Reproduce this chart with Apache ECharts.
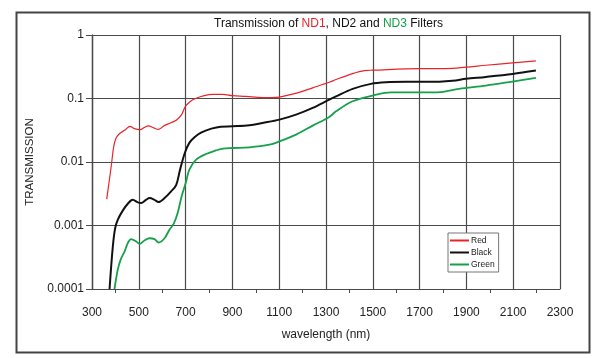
<!DOCTYPE html>
<html>
<head>
<meta charset="utf-8">
<script src="https://cdn.jsdelivr.net/npm/echarts@6/dist/echarts.min.js"></script>
<style>
html,body{margin:0;padding:0;background:#fff;}
#chart{width:600px;height:358px;}
</style>
</head>
<body>
<div id="chart"></div>
<script>
// ---- data ----
const xTickLabels = [300, 500, 700, 900, 1100, 1300, 1500, 1700, 1900, 2100, 2300];
const yTickLabels = [0.0001, 0.001, 0.01, 0.1, 1];

const redWl = [363, 382, 393, 403, 417, 439, 463, 481, 506, 524, 541, 564, 584, 609, 635, 660, 683, 698, 720, 745, 780, 816, 859, 901, 958, 1029, 1087, 1129, 1186, 1243, 1314, 1343, 1414, 1464, 1499, 1698, 1812, 1898, 1983, 2097, 2197];
const redT = [0.0026, 0.0085, 0.0176, 0.0239, 0.0279, 0.0315, 0.0365, 0.0335, 0.0323, 0.0351, 0.037, 0.0344, 0.0327, 0.0374, 0.0412, 0.0453, 0.0557, 0.074, 0.090, 0.101, 0.111, 0.116, 0.116, 0.111, 0.108, 0.103, 0.104, 0.111, 0.125, 0.147, 0.180, 0.199, 0.247, 0.275, 0.279, 0.296, 0.296, 0.311, 0.334, 0.364, 0.392];

const blackWl = [375, 389, 399, 410, 432, 453, 474, 496, 510, 531, 546, 567, 584, 610, 638, 660, 676, 697, 716, 738, 766, 810, 850, 901, 973, 1029, 1101, 1172, 1243, 1314, 1343, 1414, 1492, 1556, 1642, 1741, 1841, 1898, 1983, 2097, 2197];
const blackT = [0.0001, 0.000467, 0.00091, 0.00123, 0.00173, 0.0022, 0.00254, 0.00231, 0.00226, 0.00254, 0.0027, 0.00254, 0.00234, 0.0027, 0.00344, 0.00438, 0.0075, 0.0140, 0.020, 0.0245, 0.0290, 0.0335, 0.0360, 0.0365, 0.0378, 0.0412, 0.0465, 0.0557, 0.0711, 0.096, 0.108, 0.142, 0.170, 0.180, 0.183, 0.183, 0.191, 0.204, 0.219, 0.244, 0.275];

const greenWl = [396, 410, 422, 439, 453, 467, 489, 503, 524, 546, 567, 585, 610, 631, 649, 666, 683, 702, 716, 745, 790, 830, 860, 901, 973, 1058, 1101, 1172, 1243, 1314, 1343, 1414, 1499, 1578, 1684, 1777, 1869, 1983, 2097, 2197];
const greenT = [0.0001, 0.0002, 0.000288, 0.000389, 0.000528, 0.00061, 0.00056, 0.000514, 0.00058, 0.00063, 0.00061, 0.00054, 0.00063, 0.00086, 0.00106, 0.00157, 0.00287, 0.0049, 0.00757, 0.0109, 0.0135, 0.0152, 0.0163, 0.0166, 0.017, 0.0187, 0.0211, 0.027, 0.0374, 0.0513, 0.0628, 0.0904, 0.111, 0.125, 0.125, 0.125, 0.142, 0.160, 0.185, 0.211];

const seriesNames = ['Red', 'Black', 'Green'];
// ---- chart ----
const zip = (a, b) => a.map((v, i) => [v, b[i]]);
const chart = echarts.init(document.getElementById('chart'), null, {renderer: 'canvas'});
const gridCol = '#4a4a4a';
const fontMain = '"Liberation Sans", Arial, sans-serif';
const option = {
  animation: false,
  backgroundColor: '#fff',
  title: {
    left: 209, top: 13,
    text: '{a|Transmission of }{r|ND1}{a|, ND2 and }{g|ND3}{a| Filters}',
    textStyle: {
      fontFamily: fontMain, fontSize: 12, fontWeight: 'normal',
      rich: {
        a: {color: '#111', fontFamily: fontMain, fontSize: 12},
        r: {color: '#e8242b', fontFamily: fontMain, fontSize: 12},
        g: {color: '#16a04a', fontFamily: fontMain, fontSize: 12}
      }
    }
  },
  graphic: [{
    type: 'rect', left: 14, top: 10, silent: true,
    shape: {width: 573, height: 340},
    style: {fill: 'none', stroke: '#444', lineWidth: 2}
  }],
  legend: {
    orient: 'vertical', left: 448, top: 233,
    itemWidth: 19, itemHeight: 2, itemGap: 3,
    padding: [3, 4, 3, 2],
    borderColor: '#777', borderWidth: 1,
    backgroundColor: '#fff',
    icon: 'rect',
    textStyle: {fontSize: 8.5, color: '#222', fontFamily: fontMain, padding: [0,0,0,-3]},
    data: seriesNames
  },
  grid: {left: 92, right: 40, top: 35, bottom: 69, show: false},
  xAxis: [
    {type: 'value', min: 300, max: 2300, show: false},
    {
      type: 'value', min: 0, max: 2000, interval: 200, position: 'bottom',
      name: 'wavelength (nm)', nameLocation: 'middle', nameGap: 40,
      nameTextStyle: {fontSize: 12, color: '#222', fontFamily: fontMain},
      axisLine: {show: true, lineStyle: {color: gridCol, width: 1.2}},
      axisTick: {show: false},
      minorTick: {show: true, splitNumber: 2, length: 4, lineStyle: {color: gridCol}},
      axisLabel: {
        margin: 18, fontSize: 12, color: '#222', fontFamily: fontMain,
        formatter: v => String(xTickLabels[Math.round(v / 200)])
      },
      splitLine: {show: true, lineStyle: {color: gridCol, width: 1.2}}
    },
    {
      type: 'value', min: 0, max: 2000, interval: 2000, position: 'top',
      axisLine: {show: true, lineStyle: {color: gridCol, width: 1.2}},
      axisTick: {show: false}, axisLabel: {show: false}, splitLine: {show: false}
    }
  ],
  yAxis: [{
    type: 'log', logBase: 10, min: 0.0001, max: 1,
    name: 'TRANSMISSION', nameLocation: 'middle', nameGap: 56, nameRotate: 90,
    nameTextStyle: {fontSize: 11.5, color: '#222', fontFamily: fontMain},
    axisLine: {show: true, lineStyle: {color: gridCol, width: 1.2}},
    axisTick: {show: true, length: 6, lineStyle: {color: gridCol}},
    axisLabel: {
      fontSize: 12, color: '#222', margin: 8, fontFamily: fontMain,
      formatter: v => String(Number(Number(v).toPrecision(6)))
    },
    splitLine: {show: true, lineStyle: {color: gridCol, width: 1.2}}
  }, {
    type: 'log', logBase: 10, min: 0.0001, max: 1, position: 'right',
    axisLine: {show: true, lineStyle: {color: gridCol, width: 1.2}},
    axisTick: {show: false}, axisLabel: {show: false}, splitLine: {show: false}
  }],
  series: [
    {name: 'Red', type: 'line', xAxisIndex: 0, yAxisIndex: 0, data: zip(redWl, redT), smooth: 0.35, symbol: 'none',
     lineStyle: {color: '#e8242b', width: 1.2}, itemStyle: {color: '#e8242b'}},
    {name: 'Black', type: 'line', xAxisIndex: 0, yAxisIndex: 0, data: zip(blackWl, blackT), smooth: 0.35, symbol: 'none',
     lineStyle: {color: '#111', width: 2}, itemStyle: {color: '#111'}},
    {name: 'Green', type: 'line', xAxisIndex: 0, yAxisIndex: 0, data: zip(greenWl, greenT), smooth: 0.35, symbol: 'none',
     lineStyle: {color: '#16a04a', width: 1.8}, itemStyle: {color: '#16a04a'}}
  ]
};
chart.setOption(option);
</script>
</body>
</html>
